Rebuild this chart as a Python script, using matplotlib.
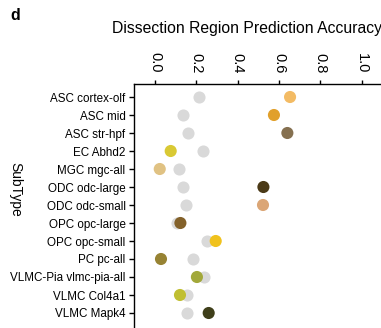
import matplotlib
matplotlib.use("Agg")
import matplotlib.pyplot as plt

plt.rcParams['font.family'] = ['Liberation Sans', 'DejaVu Sans']

subtypes = [
    "ASC cortex-olf", "ASC mid", "ASC str-hpf", "EC Abhd2", "MGC mgc-all",
    "ODC odc-large", "ODC odc-small", "OPC opc-large", "OPC opc-small",
    "PC pc-all", "VLMC-Pia vlmc-pia-all", "VLMC Col4a1", "VLMC Mapk4",
]
# accuracy with shuffled labels (grey) and true accuracy (coloured)
baseline_acc = [0.213, 0.134, 0.161, 0.234, 0.116, 0.134, 0.150,
                0.108, 0.252, 0.184, 0.236, 0.153, 0.155]
model_acc = [0.654, 0.576, 0.641, 0.076, 0.023, 0.525, 0.523,
             0.123, 0.294, 0.029, 0.203, 0.121, 0.260]
subtype_colors = ["#f3bb64", "#e1a02b", "#857050", "#d9c934", "#e0c283",
                  "#4b3a17", "#dba676", "#83612a", "#f0c21d", "#978333",
                  "#a2a83a", "#c0bf32", "#3f3f1a"]
x_ticks = [0.0, 0.2, 0.4, 0.6, 0.8, 1.0]

W, H = 381, 328
fig = plt.figure(figsize=(W / 100, H / 100), dpi=100)

# axes geometry in pixels
px_per_unit = 206.5
x0_px = 155.0
xmin, xmax = -0.102, 1.1
row0_px, row_step = 97.0, 18.0
ytop, ybot = -0.72, 13.5
left_px = x0_px + xmin * px_per_unit
right_px = x0_px + xmax * px_per_unit
top_px = row0_px + ytop * row_step
bot_px = row0_px + ybot * row_step
ax = fig.add_axes([left_px / W, 1 - bot_px / H,
                   (right_px - left_px) / W, (bot_px - top_px) / H])

ypos = list(range(len(subtypes)))
ax.scatter(baseline_acc, ypos, s=76, color="#d9d9d9", linewidths=0, zorder=2)
ax.scatter(model_acc, ypos, s=76, color=subtype_colors, linewidths=0, zorder=3)

ax.set_xlim(xmin, xmax)
ax.set_ylim(ybot, ytop)
ax.xaxis.tick_top()
ax.set_xticks(x_ticks)
ax.set_xticklabels([f"{t:.1f}" for t in x_ticks], rotation=-90, fontsize=10.5)
ax.set_yticks(ypos)
ax.set_yticklabels(subtypes, fontsize=8.4)
ax.tick_params(axis='x', direction='out', length=3, width=1, pad=5)
ax.tick_params(axis='y', direction='out', length=3.5, width=1, pad=2.5)
for side in ("right", "bottom"):
    ax.spines[side].set_visible(False)
for side in ("left", "top"):
    ax.spines[side].set_linewidth(1.0)

fig.text(112 / W, 1 - 28 / H, "Dissection Region Prediction Accuracy",
         fontsize=11.3, ha='left', va='center')
fig.text(15 / W, 1 - 189 / H, "SubType", fontsize=10, rotation=-90,
         ha='center', va='center')
fig.text(10 / W, 1 - 15 / H, "d", fontsize=11.5, fontweight='bold',
         ha='left', va='center')

fig.savefig("out.png", dpi=100)
